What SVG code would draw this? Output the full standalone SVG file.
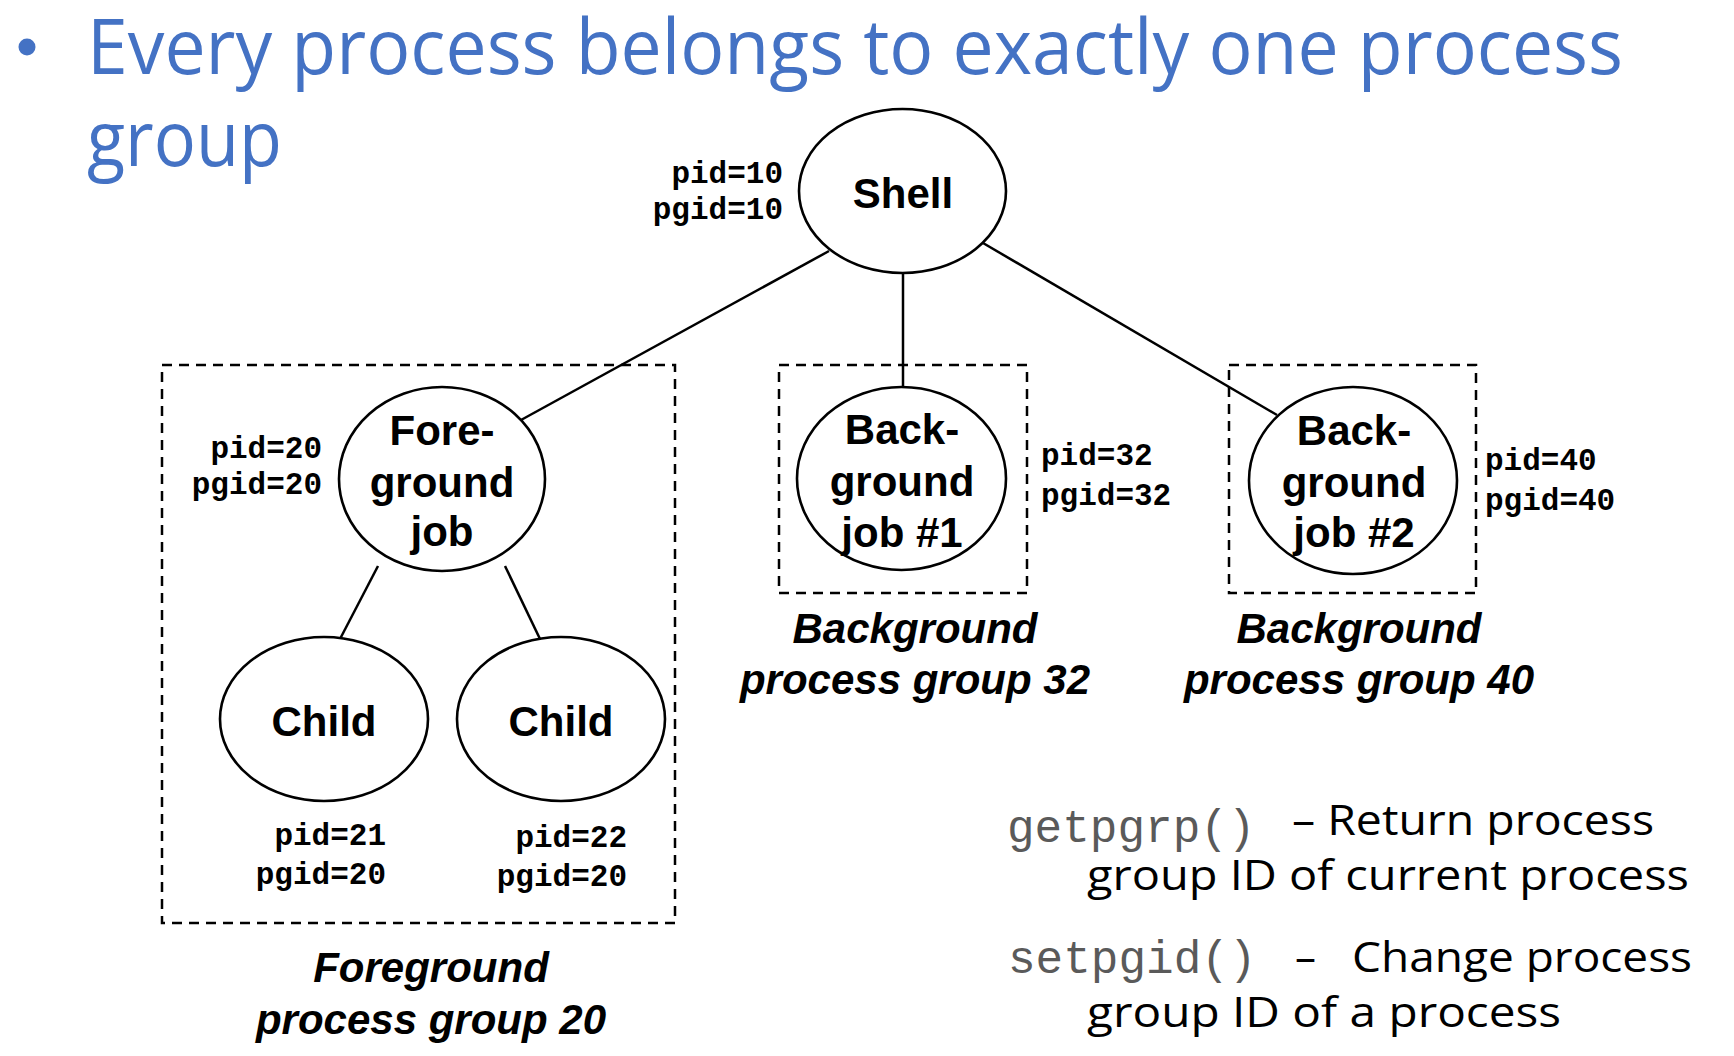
<svg xmlns="http://www.w3.org/2000/svg" width="1734" height="1056" viewBox="0 0 1734 1056">
<style>
.title{font-family:"Open Sans","Noto Sans",sans-serif;font-size:77px;fill:#4472C4}
.node{fill:#fff;stroke:#000;stroke-width:2.6}
.ntxt{font-family:"Liberation Sans",Arial,sans-serif;font-weight:bold;font-size:42px;fill:#000;text-anchor:middle}
.pid{font-family:"Liberation Mono","Courier New",monospace;font-weight:bold;font-size:31px;fill:#000}
.grp{fill:none;stroke:#000;stroke-width:2.5;stroke-dasharray:10 7}
.glab{font-family:"Liberation Sans",Arial,sans-serif;font-weight:bold;font-style:italic;font-size:42px;fill:#000;text-anchor:middle}
.mono{font-family:"Liberation Mono","Courier New",monospace;font-size:46px;fill:#5a5a5a}
.body{font-family:"Open Sans","Noto Sans",sans-serif;font-size:42px;fill:#000}
.edge{stroke:#000;stroke-width:2.5;fill:none}
</style>
<rect x="0" y="0" width="1734" height="1056" fill="#fff"/>
<g id="title">
<circle cx="27" cy="47" r="8.5" fill="#4472C4"/>
<text class="title" x="87" y="74" textLength="1536" lengthAdjust="spacingAndGlyphs">Every process belongs to exactly one process</text>
<text class="title" x="87" y="166" textLength="195" lengthAdjust="spacingAndGlyphs">group</text>
</g>
<g id="groups">
<rect id="fg-group" class="grp" x="162" y="365" width="513" height="558"/>
<rect id="bg32-group" class="grp" x="779" y="365" width="248" height="228"/>
<rect id="bg40-group" class="grp" x="1229" y="365" width="247" height="228"/>
</g>
<g id="connectors">
<line class="edge" x1="829" y1="251" x2="521" y2="420"/>
<line class="edge" x1="903" y1="273" x2="903" y2="387"/>
<line class="edge" x1="983" y1="243" x2="1277" y2="415"/>
<line class="edge" x1="378" y1="566" x2="340" y2="639"/>
<line class="edge" x1="505" y1="566" x2="540" y2="639"/>
</g>
<g id="shell">
<ellipse class="node" cx="902.5" cy="191" rx="103.5" ry="82"/>
<text class="ntxt" x="903" y="208">Shell</text>
<text class="pid" x="783" y="183" text-anchor="end">pid=10</text>
<text class="pid" x="783" y="219" text-anchor="end">pgid=10</text>
</g>
<g id="foreground-job">
<ellipse class="node" cx="442" cy="479" rx="103" ry="92"/>
<text class="ntxt" x="442" y="445">Fore-</text>
<text class="ntxt" x="442" y="497">ground</text>
<text class="ntxt" x="442" y="546">job</text>
<text class="pid" x="322" y="458" text-anchor="end">pid=20</text>
<text class="pid" x="322" y="494" text-anchor="end">pgid=20</text>
</g>
<g id="bg-job-1">
<ellipse class="node" cx="901.5" cy="478.5" rx="104.5" ry="91.5"/>
<text class="ntxt" x="902" y="444">Back-</text>
<text class="ntxt" x="902" y="496">ground</text>
<text class="ntxt" x="902" y="547">job #1</text>
<text class="pid" x="1041" y="465">pid=32</text>
<text class="pid" x="1041" y="505">pgid=32</text>
</g>
<g id="bg-job-2">
<ellipse class="node" cx="1353" cy="480.5" rx="104" ry="93.5"/>
<text class="ntxt" x="1354" y="445">Back-</text>
<text class="ntxt" x="1354" y="497">ground</text>
<text class="ntxt" x="1354" y="547">job #2</text>
<text class="pid" x="1485" y="470">pid=40</text>
<text class="pid" x="1485" y="510">pgid=40</text>
</g>
<g id="child-1">
<ellipse class="node" cx="324" cy="719" rx="104" ry="82"/>
<text class="ntxt" x="324" y="736">Child</text>
<text class="pid" x="386" y="845" text-anchor="end">pid=21</text>
<text class="pid" x="386" y="884" text-anchor="end">pgid=20</text>
</g>
<g id="child-2">
<ellipse class="node" cx="561" cy="719" rx="104" ry="82"/>
<text class="ntxt" x="561" y="736">Child</text>
<text class="pid" x="627" y="847" text-anchor="end">pid=22</text>
<text class="pid" x="627" y="886" text-anchor="end">pgid=20</text>
</g>
<g id="group-labels">
<text class="glab" x="431" y="982">Foreground</text>
<text class="glab" x="431" y="1034">process group 20</text>
<text class="glab" x="915" y="643">Background</text>
<text class="glab" x="915" y="694">process group 32</text>
<text class="glab" x="1359" y="643">Background</text>
<text class="glab" x="1359" y="694">process group 40</text>
</g>
<g id="notes">
<text class="mono" x="1007" y="842">getpgrp()</text>
<text class="body" x="1292" y="835" textLength="362" lengthAdjust="spacingAndGlyphs">– Return process</text>
<text class="body" x="1087" y="890" textLength="602" lengthAdjust="spacingAndGlyphs">group ID of current process</text>
<text class="mono" x="1008" y="973">setpgid()</text>
<text class="body" x="1295" y="972">–</text>
<text class="body" x="1352" y="972" textLength="340" lengthAdjust="spacingAndGlyphs">Change process</text>
<text class="body" x="1087" y="1027" textLength="474" lengthAdjust="spacingAndGlyphs">group ID of a process</text>
</g>
</svg>
